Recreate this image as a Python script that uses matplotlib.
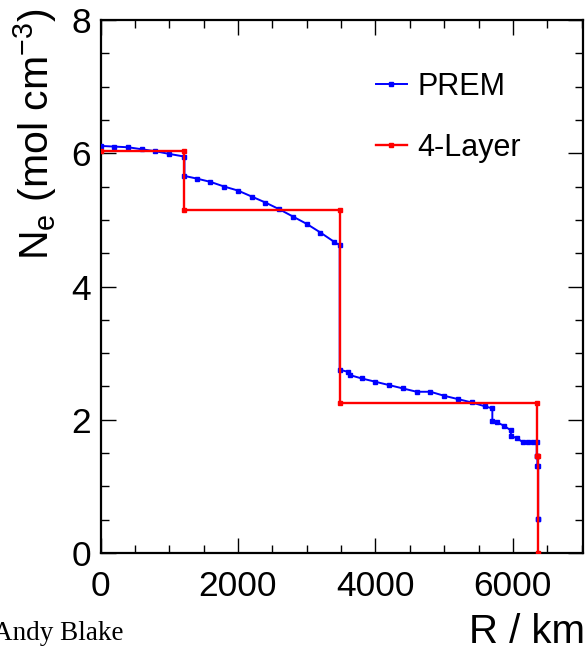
import matplotlib
matplotlib.use("Agg")
import matplotlib.pyplot as plt
from matplotlib.ticker import MultipleLocator

plt.rcParams['font.family'] = ['Liberation Sans', 'DejaVu Sans']
plt.rcParams['mathtext.fontset'] = 'custom'
plt.rcParams['mathtext.rm'] = 'Liberation Sans'
plt.rcParams['mathtext.default'] = 'regular'

# PREM electron density
prem_r = [0, 200, 400, 600, 800, 1000, 1221.5, 1221.5, 1400, 1600, 1800, 2000,
          2200, 2400, 2600, 2800, 3000, 3200, 3400, 3480, 3480, 3600, 3630,
          3800, 4000, 4200, 4400, 4600, 4800, 5000, 5200, 5400, 5600, 5701,
          5701, 5771, 5871, 5971, 5971, 6061, 6151, 6221, 6291, 6346.6,
          6346.6, 6356, 6356, 6368, 6368, 6371]
prem_ne = [6.11, 6.10, 6.09, 6.06, 6.03, 5.99, 5.95, 5.66, 5.62, 5.57, 5.50, 5.44,
           5.35, 5.26, 5.16, 5.05, 4.94, 4.81, 4.67, 4.62, 2.75, 2.72, 2.67,
           2.62, 2.57, 2.52, 2.47, 2.42, 2.42, 2.36, 2.31, 2.26, 2.20, 2.17,
           1.98, 1.96, 1.91, 1.84, 1.76, 1.72, 1.66, 1.66, 1.67, 1.67,
           1.46, 1.46, 1.31, 1.31, 0.51, 0.51]

# 4-layer model
layer_r = [0, 1221.5, 1221.5, 3480, 3480, 6346.6, 6346.6, 6371, 6371]
layer_ne = [6.04, 6.04, 5.15, 5.15, 2.25, 2.25, 1.46, 1.46, 0.0]

W, H = 586, 651
fig = plt.figure(figsize=(W / 100, H / 100), dpi=100)
ax = fig.add_axes([100.5 / W, 1 - 553 / H, (583 - 100.5) / W, (553 - 20) / H])

ax.plot(prem_r, prem_ne, color='#0000ff', lw=1.4, marker='s', ms=3.5,
        label='PREM', zorder=3)
ax.plot(layer_r, layer_ne, color='#ff0000', lw=1.7, marker='s', ms=3.5,
        label='4-Layer', zorder=4)

ax.set_xlim(0, 7020)
ax.set_ylim(0, 8)
ax.xaxis.set_major_locator(MultipleLocator(2000))
ax.xaxis.set_minor_locator(MultipleLocator(500))
ax.yaxis.set_major_locator(MultipleLocator(2))
ax.yaxis.set_minor_locator(MultipleLocator(0.5))
ax.tick_params(which='both', direction='in', top=True, right=True,
               labelsize=25.5, width=1)
ax.tick_params(which='major', length=11)
ax.tick_params(which='minor', length=5.5)
ax.tick_params(axis='x', pad=12)
ax.tick_params(axis='y', pad=7)
for s in ax.spines.values():
    s.set_linewidth(1.6)

fig.text(35 / W, 1 - 134 / H, 'N$_{e}$ (mol cm$^{-3}$)', rotation=90,
         ha='center', va='center', fontsize=29.5)
fig.text(585 / W, 1 - 632 / H, 'R / km', ha='right', va='center', fontsize=29)
fig.text(-7 / W, 1 - 634 / H, 'Andy Blake', ha='left', va='center',
         fontsize=19.5, family='Liberation Serif')

ax.legend(loc='upper left', bbox_to_anchor=(376 / W, 1 - 72 / H),
          bbox_transform=fig.transFigure, frameon=False, fontsize=22,
          numpoints=1, handlelength=1.0, handletextpad=0.35,
          labelspacing=1.0, borderpad=0, borderaxespad=0)

fig.savefig('out.png', dpi=100)
